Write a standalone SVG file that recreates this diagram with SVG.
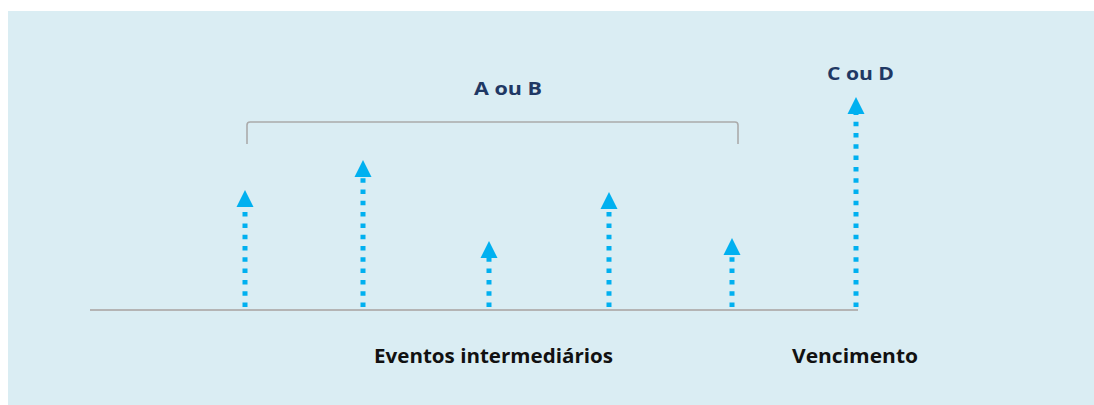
<svg xmlns="http://www.w3.org/2000/svg" width="1094" height="405" viewBox="0 0 1094 405">
<style>
.bg{fill:#daedf3}
.axis{stroke:#b4b4b4;stroke-width:2;fill:none}
.brace{stroke:#ababab;stroke-width:1.6;fill:none}
.dots{stroke:#00b0f0;stroke-width:5;stroke-dasharray:4.5 6.8;fill:none}
.head{fill:#00b0f0}
.lbl{font-family:"Open Sans","Noto Sans",sans-serif;font-weight:bold}
.navy{fill:#1f3864;font-size:18px}
.blk{fill:#111;font-size:20px}
</style>
<defs>
<polygon id="ah" points="0,0 8.5,17 -8.5,17"/>
</defs>
<rect class="bg" x="8" y="11" width="1086" height="394"/>
<g id="axis"><path class="axis" d="M90 310H858"/></g>
<g id="bracket"><path class="brace" d="M247 144V125Q247 122 250 122H735Q738 122 738 125V144"/></g>
<g id="connectors">
<path class="dots" d="M245 307V207"/><use href="#ah" class="head" x="245" y="190"/>
<path class="dots" d="M363 307V178"/><use href="#ah" class="head" x="363" y="160"/>
<path class="dots" d="M489 307V258"/><use href="#ah" class="head" x="489" y="241"/>
<path class="dots" d="M609 307V209"/><use href="#ah" class="head" x="609" y="192"/>
<path class="dots" d="M732 307V256"/><use href="#ah" class="head" x="732" y="238"/>
<path class="dots" d="M856 307V114"/><use href="#ah" class="head" x="856" y="97"/>
</g>
<g id="label-aoub"><text class="lbl navy" x="474" y="95" textLength="68" lengthAdjust="spacingAndGlyphs">A ou B</text></g>
<g id="label-coud"><text class="lbl navy" x="827" y="80" textLength="67" lengthAdjust="spacingAndGlyphs">C ou D</text></g>
<g id="label-eventos"><text class="lbl blk" x="374" y="363" textLength="239" lengthAdjust="spacingAndGlyphs">Eventos intermediários</text></g>
<g id="label-vencimento"><text class="lbl blk" x="792" y="363" textLength="126" lengthAdjust="spacingAndGlyphs">Vencimento</text></g>
</svg>
